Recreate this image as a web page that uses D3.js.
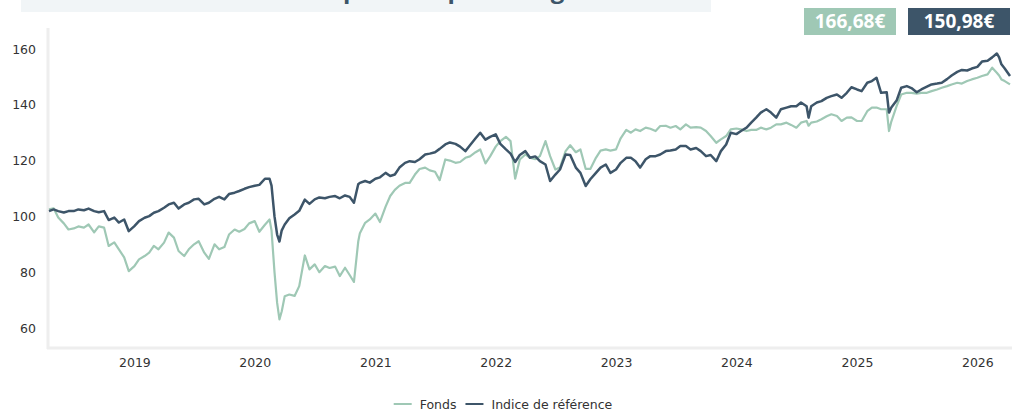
<!DOCTYPE html>
<head>
  <title>Fonds vs indice</title>
  <meta charset="utf-8">
  <script type="text/javascript" src="https://cdn.jsdelivr.net/npm/d3@7/dist/d3.min.js"></script>
  <style>
body { margin: 0; background: #fff; }
text { font-family: "DejaVu Sans", sans-serif; }
.heavy { font-family: "Open Sans", sans-serif; font-weight: bold; }
  </style>
</head>
<body>
</body>
<script>

var dates = ["2018-04-17","2018-05-01","2018-05-15","2018-06-01","2018-06-15","2018-07-01","2018-07-15","2018-08-01","2018-08-15","2018-09-01","2018-09-15","2018-10-01","2018-10-15","2018-11-01","2018-11-15","2018-12-01","2018-12-15",
"2019-01-01","2019-01-15","2019-02-01","2019-02-15","2019-03-01","2019-03-15","2019-04-01","2019-04-15","2019-05-01","2019-05-15","2019-06-01","2019-06-15","2019-07-01","2019-07-15","2019-08-01","2019-08-15","2019-09-01","2019-09-15","2019-10-01","2019-10-15","2019-11-01","2019-11-15","2019-12-01","2019-12-15",
"2020-01-01","2020-01-15","2020-02-01","2020-02-15","2020-02-21","2020-03-01","2020-03-09","2020-03-16","2020-03-23","2020-04-01","2020-04-15","2020-05-01","2020-05-15","2020-06-01","2020-06-15","2020-07-01","2020-07-15","2020-08-01","2020-08-15","2020-09-01","2020-09-15","2020-10-01","2020-10-15","2020-10-28","2020-11-10","2020-11-15","2020-12-01","2020-12-15",
"2021-01-01","2021-01-15","2021-02-01","2021-02-15","2021-03-01","2021-03-15","2021-04-01","2021-04-15","2021-05-01","2021-05-15","2021-06-01","2021-06-15","2021-07-01","2021-07-15","2021-08-01","2021-08-15","2021-09-01","2021-09-15","2021-10-01","2021-10-15","2021-11-01","2021-11-15","2021-12-01","2021-12-15",
"2022-01-01","2022-01-15","2022-02-01","2022-02-15","2022-03-01","2022-03-15","2022-04-01","2022-04-15","2022-05-01","2022-05-15","2022-06-01","2022-06-15","2022-07-01","2022-07-15","2022-08-01","2022-08-15","2022-09-01","2022-09-15","2022-10-01","2022-10-15","2022-11-01","2022-11-15","2022-12-01","2022-12-15",
"2023-01-01","2023-01-15","2023-02-01","2023-02-15","2023-03-01","2023-03-15","2023-04-01","2023-04-15","2023-05-01","2023-05-15","2023-06-01","2023-06-15","2023-07-01","2023-07-15","2023-08-01","2023-08-15","2023-09-01","2023-09-15","2023-10-01","2023-10-15","2023-11-01","2023-11-15","2023-12-01","2023-12-15",
"2024-01-01","2024-01-15","2024-02-01","2024-02-15","2024-03-01","2024-03-15","2024-04-01","2024-04-15","2024-05-01","2024-05-15","2024-06-01","2024-06-15","2024-07-01","2024-07-15","2024-08-01","2024-08-07","2024-08-15","2024-09-01","2024-09-15","2024-10-01","2024-10-15","2024-11-01","2024-11-15","2024-12-01","2024-12-15",
"2025-01-01","2025-01-15","2025-02-01","2025-02-15","2025-03-01","2025-03-15","2025-04-01","2025-04-08","2025-04-15","2025-05-01","2025-05-15","2025-06-01","2025-06-15","2025-07-01","2025-07-15","2025-08-01","2025-08-15","2025-09-01","2025-09-15","2025-10-01","2025-10-15","2025-11-01","2025-11-15","2025-12-01","2025-12-15",
"2026-01-01","2026-01-15","2026-02-01","2026-02-15","2026-03-01","2026-03-08","2026-03-15","2026-03-25","2026-04-10"]

var fonds = [102.5,102.9,99.6,97.5,95.3,95.7,96.4,96,97.1,94.3,96.4,96,89.4,90.7,88.2,85.3,80.4,
82.2,84.6,85.8,87,89.4,88.2,90.6,94.2,92.4,87.6,85.8,88.2,90,91.1,87,84.8,90,88.2,89,93.5,95.3,94.5,95.5,97.5,
98.3,94.5,97,98.9,95,80,69,63.1,66,71.4,72,71.5,75,86,81,82.8,80,82.2,81.5,82,78.6,81.6,79,76.5,91,94,97.7,98.9,
101,98,103.5,107.3,109.5,111,112,112,115,117,117.5,116.5,116,113,120.4,120,119.2,119.5,121,121.5,123,124,119,121.5,
125,127,128.5,127,113.5,120.4,122.2,121,120.5,121.6,127,121.6,116.8,117.5,123.4,125.5,123,124,117,117,121,123.6,124,123.6,
124,128,131,130,131.2,130.6,131.8,131.4,130.6,132.4,132.5,131.8,132.4,131.2,133,131.8,132,131.8,130.6,128.8,126.4,127.6,128.8,131.2,
131.5,131.2,130.6,131,131,131.8,131.2,131.8,133,133,133.6,132.8,131.8,133.6,134.2,132.5,133.6,134,134.8,135.9,136.6,136,134.2,135.4,135.5,
134.2,134.2,137.7,139,139,138.4,138.4,130.6,134,139.5,143.7,144.3,144.3,144,144.3,144.3,144.9,145.5,146.1,146.7,147.3,147.9,147.6,148.5,149.1,
149.7,150.3,150.9,153.3,151.5,150.5,149.1,148.5,147.3]

var indice = [101.9,102.5,101.9,101.4,101.9,101.9,102.5,102.2,102.8,101.9,101.5,101.9,98.7,99.6,97.8,98.9,94.7,
96.5,98.3,99.5,100.1,101.3,101.9,103.1,104.3,104.9,102.8,104.3,104.9,106.1,106.3,104.3,104.9,106.3,107,106.1,108,108.5,109.1,109.9,110.5,
111,111.3,113.5,113.5,111,100,93.5,91,95,97.1,99.3,100.7,102,106,104.5,106.1,106.8,106.5,107,107.3,106.5,107.5,107,104.9,111.5,112,112.7,112.1,
113.5,114,115.6,114.5,115,117.5,119.2,119.8,119.5,120.5,122.2,122.5,123,124.2,125.8,126.5,126,125,123.4,125.5,128,130,127.5,128.5,
129.4,126,124,122.5,119.5,122,123.4,121,121.5,119.8,118.6,112.7,115,116.8,122.2,122,117.5,115.6,110.9,113.3,115.6,117.5,118.6,115.6,
116.8,119.2,121,121,119.8,117.5,120.5,121.6,121.6,122.2,123.4,123.6,124,125.2,125.2,124,124.5,123.4,121.6,122,119.8,123.4,125.8,130,
129.5,130.6,131.8,133.6,135.4,137.2,138.4,137.2,135.4,138.4,139,139.5,139.5,140.8,139.5,135.4,139.5,140.8,141.3,142.5,143.1,143.7,142.5,144.3,146.3,
145.5,144.9,147.9,148.5,149.7,144.3,144.5,137.2,139,141.5,146.1,146.7,146,144.5,145.5,146.5,147.3,147.6,147.9,149.2,150.5,151.8,152.5,152.3,153,
153.6,155.5,155.8,157,158.4,157,154.5,153,150.3]

var seriesNames = ["Fonds", "Indice de référence"]
var seriesColors = ["#9fc8b5", "#3d5569"]
var badgeLabels = ["166,68€", "150,98€"]
var yTicks = [60, 80, 100, 120, 140, 160]
var xDomain = ["2018-04-17", "2026-04-10"]

var parseDate = d3.timeParse("%Y-%m-%d")
var data = dates.map(function(d, i) { return {date: parseDate(d), fonds: fonds[i], indice: indice[i]} })

var width = 1018, height = 412
var plot = {left: 49, right: 1010, top: 28, bottom: 347}

var svg = d3.select("body").append("svg").attr("width", width).attr("height", height)

// title banner, mostly scrolled off the top
svg.append("rect").attr("x", 21).attr("y", 0).attr("width", 690).attr("height", 12).attr("fill", "#f1f5f7")
svg.append("text").attr("class", "heavy").attr("x", 366).attr("y", -2).attr("text-anchor", "middle")
  .attr("font-size", "24px").attr("fill", "#3d5569")
  .text("Performance comparée depuis l'origine")

var xScale = d3.scaleTime().domain(xDomain.map(parseDate)).range([plot.left, plot.right])
var yScale = d3.scaleLinear().domain([60, 160]).range([328, 49])

svg.append("line").attr("x1", plot.left - 1).attr("x2", plot.left - 1).attr("y1", plot.top).attr("y2", plot.bottom + 2)
  .attr("stroke", "#eeeeee").attr("stroke-width", 3)
svg.append("line").attr("x1", plot.left - 2).attr("x2", plot.right + 2).attr("y1", plot.bottom + 1).attr("y2", plot.bottom + 1)
  .attr("stroke", "#eeeeee").attr("stroke-width", 3)

var yAxis = d3.axisLeft(yScale).tickValues(yTicks).tickSize(0).tickPadding(13)
var yaxis_area = svg.append("g").attr("transform", "translate(" + plot.left + ",0)").call(yAxis)
yaxis_area.select(".domain").remove()
yaxis_area.selectAll("text").attr("font-size", "12.5px").attr("fill", "#333333").attr("font-family", "DejaVu Sans, sans-serif")

var xAxis = d3.axisBottom(xScale).ticks(d3.timeYear.every(1)).tickFormat(d3.timeFormat("%Y")).tickSize(0).tickPadding(11)
var xaxis_area = svg.append("g").attr("transform", "translate(0," + plot.bottom + ")").call(xAxis)
xaxis_area.select(".domain").remove()
xaxis_area.selectAll("text").attr("font-size", "12.5px").attr("fill", "#333333").attr("font-family", "DejaVu Sans, sans-serif")

var keys = ["fonds", "indice"]
var widths = [2.2, 2.5]
for (var s = 0; s < keys.length; s++) {
  svg.append("path").datum(data)
    .attr("fill", "none")
    .attr("stroke", seriesColors[s])
    .attr("stroke-width", widths[s])
    .attr("stroke-linejoin", "round")
    .attr("d", d3.line()
      .x(function(d) { return xScale(d.date) })
      .y(function(d) { return yScale(d[keys[s]]) }))
}

// value badges
var badgeX = [804, 908], badgeW = [92, 102]
for (var b = 0; b < badgeLabels.length; b++) {
  svg.append("rect").attr("x", badgeX[b]).attr("y", 8).attr("width", badgeW[b]).attr("height", 27).attr("fill", seriesColors[b])
  svg.append("text").attr("class", "heavy").attr("x", badgeX[b] + badgeW[b] / 2).attr("y", 28).attr("text-anchor", "middle")
    .attr("font-size", "19px").attr("fill", "#ffffff").text(badgeLabels[b])
}

// legend, laid out from text widths and centred
var legend = svg.append("g")
var cursor = 0
for (var l = 0; l < seriesNames.length; l++) {
  legend.append("line").attr("x1", cursor).attr("x2", cursor + 18).attr("y1", 404).attr("y2", 404)
    .attr("stroke", seriesColors[l]).attr("stroke-width", 2)
  var t = legend.append("text").attr("x", cursor + 26).attr("y", 408.5).attr("font-size", "12.5px").attr("fill", "#333333")
    .text(seriesNames[l])
  cursor = cursor + 26 + t.node().getComputedTextLength() + 9
}
var legendW = cursor - 9
legend.attr("transform", "translate(" + (503 - legendW / 2) + ",0)")

</script>
